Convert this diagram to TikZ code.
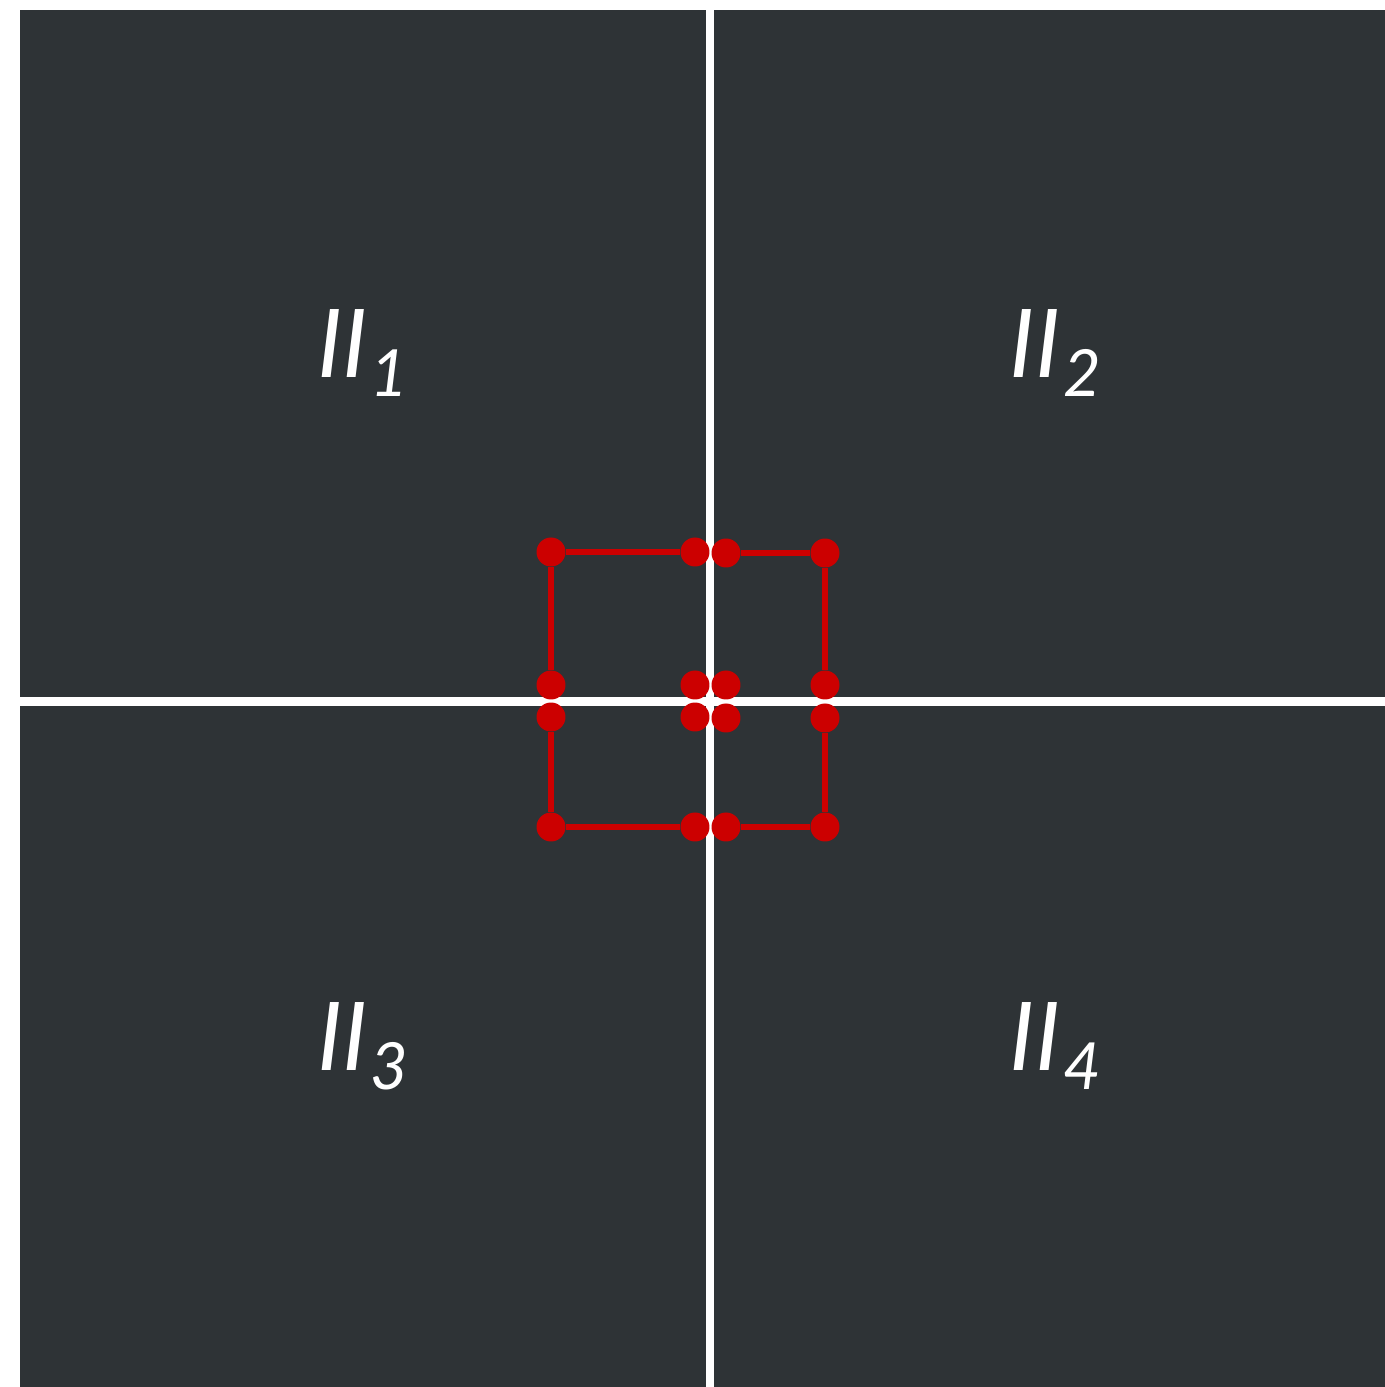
\documentclass[tikz,border=0pt]{standalone}
\usepackage{fontspec}
\setmainfont{Lato}
\usepackage{xcolor}
\usepackage{tikz}
\usetikzlibrary{positioning, calc}

\definecolor{quadDark}{HTML}{2E3336}
\definecolor{pathRed}{HTML}{CC0000}

% rotulo de quadrante: II com indice
\newcommand{\quadlabel}[1]{{\fontsize{27}{27}\selectfont\itshape II\kern0.03cm\raisebox{-0.19cm}{\fontsize{18.5}{18.5}\selectfont #1}}}

\begin{document}
\begin{tikzpicture}[
    % Estilos
    quadbox/.style={rectangle, fill=quadDark, draw=none, inner sep=0pt},
    quadtext/.style={text=white, inner sep=0pt},
    dotnode/.style={circle, fill=pathRed, draw=none, inner sep=0pt, minimum size=0.29cm},
    pathEdge/.style={draw=pathRed, line width=0.065cm}
]

% ==========================
% AREA DA FIGURA
% ==========================
\fill[white] (0,0) rectangle (13.85,13.87);
\useasboundingbox (0,0) rectangle (13.85,13.87);

% ==========================
% QUADRANTES
% ==========================
\node[quadbox, minimum width=6.86cm, minimum height=6.87cm] (q1) at (3.63,10.335) {};
\node[quadbox, minimum width=6.71cm, minimum height=6.87cm] (q2) at (10.495,10.335) {};
\node[quadbox, minimum width=6.86cm, minimum height=6.81cm] (q3) at (3.63,3.405) {};
\node[quadbox, minimum width=6.71cm, minimum height=6.81cm] (q4) at (10.495,3.405) {};

\node[quadtext] (l1) at (q1.center) {\quadlabel{1}};
\node[quadtext] (l2) at ([xshift=0.06cm]q2.center) {\quadlabel{2}};
\node[quadtext] (l3) at (q3.center) {\quadlabel{3}};
\node[quadtext] (l4) at ([xshift=0.06cm]q4.center) {\quadlabel{4}};

% ==========================
% CAMINHOS VERMELHOS (um L por quadrante)
% ==========================
\foreach \q/\xo/\xi/\yo/\yi in {1/5.51/6.95/8.35/7.02, 2/8.25/7.26/8.34/7.02, 3/5.51/6.95/5.60/6.70, 4/8.25/7.26/5.60/6.69} {
    \node[dotnode] (p\q a) at (\xo,\yo) {};
    \node[dotnode] (p\q b) at (\xi,\yo) {};
    \node[dotnode] (p\q c) at (\xo,\yi) {};
    \node[dotnode] (p\q d) at (\xi,\yi) {};
    \draw[pathEdge] (p\q b) -- (p\q a) -- (p\q c);
}

\end{tikzpicture}
\end{document}
